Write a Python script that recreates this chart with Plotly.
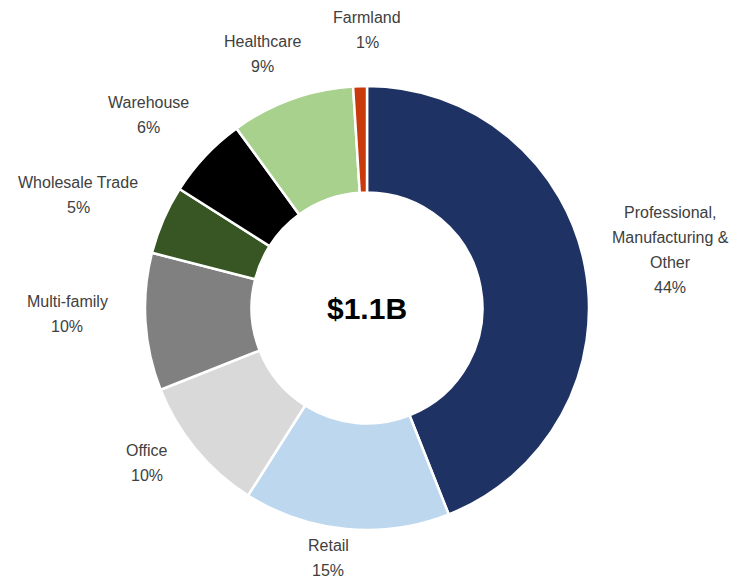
import plotly.graph_objects as go

# Data
labels = ["Professional,<br>Manufacturing &amp;<br>Other", "Retail", "Office", "Multi-family",
          "Wholesale Trade", "Warehouse", "Healthcare", "Farmland"]
values = [44, 15, 10, 10, 5, 6, 9, 1]
colors = ["#1f3264", "#bdd7ee", "#d9d9d9", "#808080", "#375623", "#000000", "#a9d18e", "#c8390c"]
center_text = "$1.1B"

# page has an 8px body margin, so the figure is drawn from (8, 8)
OFF = 8
W, H = 737 - OFF, 582 - OFF


def px_x(x):
    return (x - OFF) / W


def px_y(y):
    return 1 - (y - OFF) / H


# label block centres in window pixels (x, y)
label_pos = [(670, 250), (328, 558), (147, 463), (67, 314),
             (78, 195), (148, 115), (262, 54), (367, 30)]
line_gap = 25

# pie centre / radius in window pixels
cx, cy, r = 367, 308, 222

fig = go.Figure(go.Pie(
    labels=labels, values=values, sort=False, direction="clockwise", rotation=0,
    hole=0.52, textinfo="none", hoverinfo="label+percent",
    marker=dict(colors=colors, line=dict(color="white", width=2.5)),
    domain=dict(x=[px_x(cx - r), px_x(cx + r)], y=[px_y(cy + r), px_y(cy - r)]),
    showlegend=False,
))

# outside labels, one annotation per line so the line spacing matches
annotations = []
for lab, val, (lx, ly0) in zip(labels, values, label_pos):
    lines = lab.split("<br>") + [f"{val}%"]
    n = len(lines)
    for i, line in enumerate(lines):
        ly = ly0 + (i - (n - 1) / 2) * line_gap
        annotations.append(dict(
            text=line, x=px_x(lx), y=px_y(ly), xref="paper", yref="paper",
            showarrow=False, xanchor="center", yanchor="middle",
            font=dict(family="Liberation Sans, Arial", size=16, color="#404040"),
        ))

# centre total
annotations.append(dict(
    text=f"<b>{center_text}</b>", x=px_x(cx), y=px_y(cy), xref="paper", yref="paper",
    showarrow=False, xanchor="center", yanchor="middle",
    font=dict(family="Liberation Sans, Arial", size=30, color="#000000"),
))

fig.update_layout(
    width=W, height=H, margin=dict(l=0, r=0, t=0, b=0),
    paper_bgcolor="white", plot_bgcolor="white",
    annotations=annotations,
)

fig.write_html("out.html")
